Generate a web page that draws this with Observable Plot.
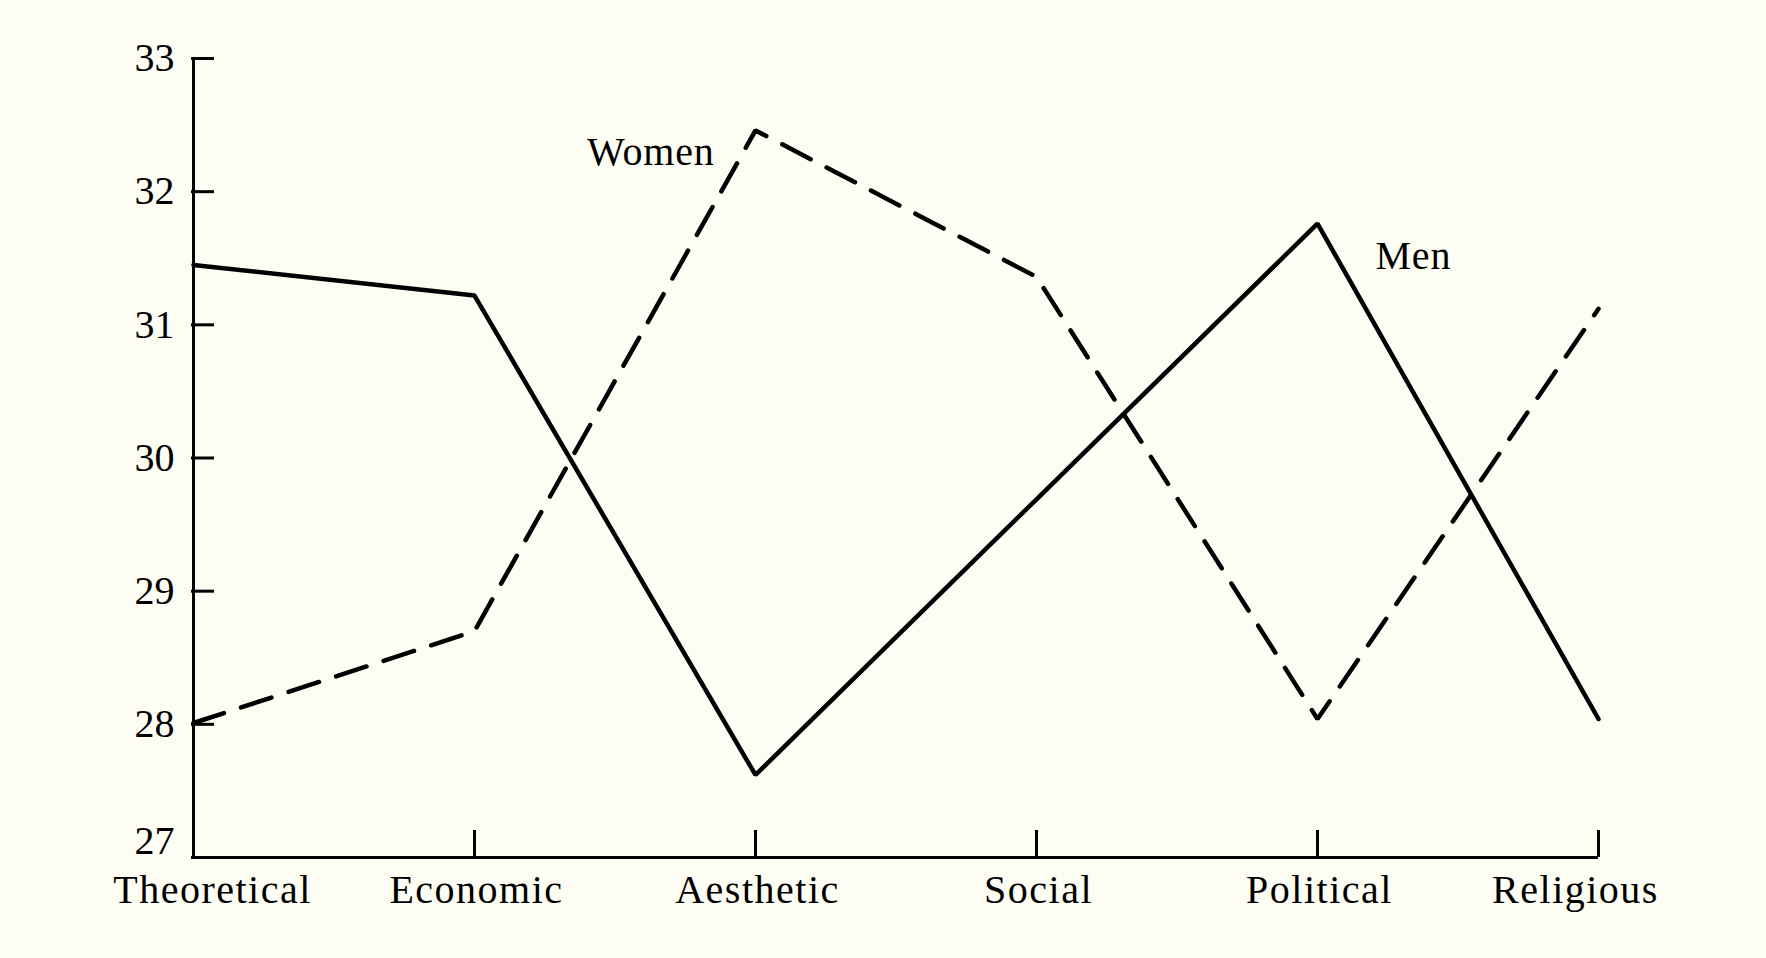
<!DOCTYPE html>
<html><head><meta charset="utf-8">
<script src="https://cdn.jsdelivr.net/npm/d3@7"></script>
<script src="https://cdn.jsdelivr.net/npm/@observablehq/plot@0.6"></script>
<style>
html,body{margin:0;padding:0;background:#fefdf3;}
#chart svg{display:block;}
</style></head><body><div id="chart"></div>
<script>
const categories = ["Theoretical","Economic","Aesthetic","Social","Political","Religious"];
const men = [31.45, 31.22, 27.62, 29.69, 31.76, 28.04];
const women = [28.01, 28.70, 32.46, 31.36, 28.04, 31.12];
const yTicks = [27, 28, 29, 30, 31, 32, 33];
const seriesNames = ["Men", "Women"];

const rows = [
  ...men.map((v, i) => ({series: seriesNames[0], category: categories[i], value: v})),
  ...women.map((v, i) => ({series: seriesNames[1], category: categories[i], value: v}))
];

const font = "'Liberation Serif', 'Times New Roman', serif";
const first = categories[0], last = categories[categories.length - 1];
const fs = 40;

const chart = Plot.plot({
  width: 1766, height: 958,
  marginLeft: 191, marginRight: 167, marginTop: 58, marginBottom: 101,
  style: {background: "#fefdf3", fontFamily: font, fontSize: fs + "px", color: "#000", overflow: "visible"},
  x: {type: "point", domain: categories, padding: 0, axis: null},
  y: {domain: [27, 33], axis: null},
  marks: [
    Plot.ruleX([first], {x: d => d, y1: 27, y2: 33, stroke: "#000", strokeWidth: 3}),
    Plot.ruleY([27], {x1: () => first, x2: () => last, stroke: "#000", strokeWidth: 3}),
    Plot.axisY(yTicks, {anchor: "left", tickSize: -23, text: null, strokeWidth: 3, label: null}),
    Plot.text(yTicks.slice(1), {x: () => first, y: d => d, dx: -19, textAnchor: "end", lineAnchor: "middle", fontSize: fs}),
    Plot.text(yTicks.slice(0, 1), {x: () => first, y: d => d, dx: -19, dy: -16, textAnchor: "end", lineAnchor: "middle", fontSize: fs}),
    Plot.axisX(categories.slice(1), {anchor: "bottom", tickSize: -27, text: null, strokeWidth: 3, label: null}),
    Plot.text(categories.slice(1, 5), {x: d => d, y: () => 27, dy: 45, dx: 2, lineAnchor: "bottom", fontSize: fs}),
    Plot.text([first], {x: d => d, y: () => 27, dy: 45, dx: 19, lineAnchor: "bottom", fontSize: fs}),
    Plot.text([last], {x: d => d, y: () => 27, dy: 45, dx: -23, lineAnchor: "bottom", fontSize: fs}),
    Plot.line(rows.filter(d => d.series === "Men"), {x: "category", y: "value", stroke: "#000", strokeWidth: 4.5, strokeLinejoin: "miter"}),
    Plot.line(rows.filter(d => d.series === "Women"), {x: "category", y: "value", stroke: "#000", strokeWidth: 4.5, strokeLinejoin: "miter", strokeDasharray: "32,18"}),
    Plot.text(["Women"], {x: () => "Aesthetic", y: () => 32.2, dx: -41, textAnchor: "end", lineAnchor: "bottom", fontSize: fs}),
    Plot.text(["Men"], {x: () => "Political", y: () => 31.42, dx: 58, textAnchor: "start", lineAnchor: "bottom", fontSize: fs})
  ]
});
d3.select(chart).selectAll("text")
  .filter(function () { return categories.includes(this.textContent); })
  .attr("letter-spacing", "1.5px");
d3.select(chart).selectAll("text")
  .filter(function () { return seriesNames.includes(this.textContent); })
  .attr("letter-spacing", "0.8px");
document.getElementById("chart").appendChild(chart);
</script></body></html>
